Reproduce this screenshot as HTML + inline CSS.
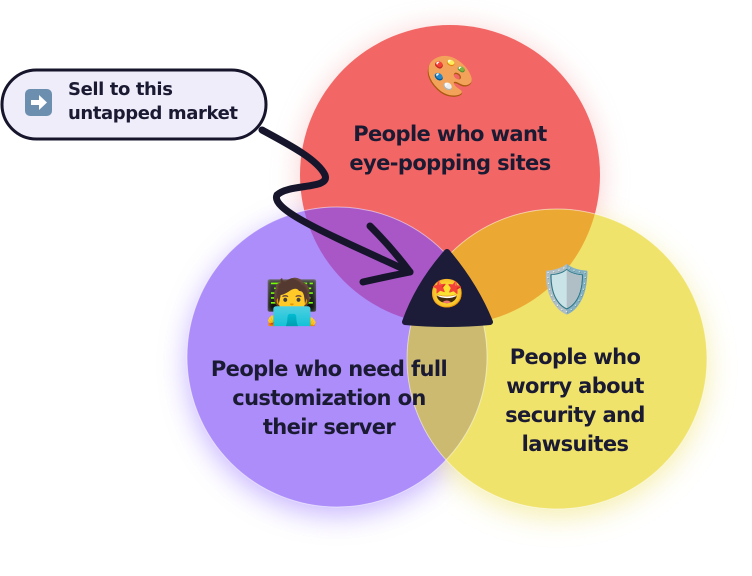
<!DOCTYPE html>
<html><head><style>
body{margin:0;width:752px;height:576px;background:#fff;overflow:hidden;position:relative;font-family:"DejaVu Sans","Liberation Sans",sans-serif}
.t{position:absolute;font-weight:bold;color:#1b1a33;font-size:21px;line-height:29px;text-align:center;letter-spacing:-0.6px;white-space:nowrap}
.e{position:absolute;font-family:"Noto Color Emoji","DejaVu Sans",sans-serif;text-align:center}
</style></head><body>
<svg width="752" height="576" style="position:absolute;left:0;top:0">
<defs>
<filter id="bl" x="-50%" y="-50%" width="200%" height="200%"><feGaussianBlur stdDeviation="14"/></filter>
<clipPath id="cr"><circle cx="450" cy="175" r="150"/></clipPath>
<clipPath id="cp"><circle cx="337" cy="357" r="150"/></clipPath>
</defs>
<circle cx="450" cy="178" r="150" fill="#f7b0b0" filter="url(#bl)" opacity=".6"/>
<circle cx="337" cy="365" r="150" fill="#b9a2ff" filter="url(#bl)" opacity=".8"/>
<circle cx="557" cy="367" r="150" fill="#f3ea9a" filter="url(#bl)" opacity=".8"/>
<circle cx="450" cy="175" r="150" fill="#f26666"/>
<circle cx="337" cy="357" r="150" fill="#ac8dfa"/>
<circle cx="557" cy="359" r="150" fill="#f0e36c"/>
<g clip-path="url(#cr)"><circle cx="337" cy="357" r="150" fill="#a957c6"/><circle cx="557" cy="359" r="150" fill="#eba934"/></g>
<g clip-path="url(#cp)"><circle cx="557" cy="359" r="150" fill="#cbba70"/></g>
<circle cx="337" cy="357" r="150" fill="none" stroke="#fff" stroke-opacity=".5" stroke-width="1"/>
<circle cx="557" cy="359" r="150" fill="none" stroke="#fff" stroke-opacity=".5" stroke-width="1"/>
<path d="M447 252 Q475 285 490 322 Q447 326 405 322 Q418 285 447 252Z" fill="#1c1b38" stroke="#1c1b38" stroke-width="6" stroke-linejoin="round"/>
<rect x="2" y="70" width="264" height="69" rx="34.5" fill="#efedf9" stroke="#16152c" stroke-width="3"/>
<path d="M262 130 C290 145 318 160 325 175 C330 190 290 183 277 195 C270 210 330 235 410 272" fill="none" stroke="#16152c" stroke-width="7" stroke-linecap="round"/>
<path d="M370 226 Q392 248 410 272 Q385 277 363 282" fill="none" stroke="#16152c" stroke-width="7" stroke-linecap="round" stroke-linejoin="round"/>
<rect x="25" y="89" width="27" height="27" rx="5" fill="#6c8fb0"/>
<path d="M31 100h8v-5l8 7.5-8 7.5v-5h-8z" fill="#fff"/>
</svg>
<div class="t" style="left:68px;top:78px;text-align:left;font-size:18px;line-height:24px;letter-spacing:-0.4px">Sell to this<br>untapped market</div>
<div class="t" style="left:300px;top:120px;width:300px">People who want<br>eye-popping sites</div>
<div class="t" style="left:179px;top:355px;width:300px">People who need full<br>customization on<br>their server</div>
<div class="t" style="left:475px;top:343px;width:200px">People who<br>worry about<br>security and<br>lawsuites</div>
<div class="e" style="left:420px;top:52px;width:60px;font-size:40px;line-height:50px">🎨</div>
<div class="e" style="left:262px;top:272px;width:60px;font-size:44px;line-height:60px">🧑‍💻</div>
<div class="e" style="left:537px;top:258px;width:60px;font-size:46px;line-height:64px">🛡️</div>
<div class="e" style="left:427px;top:277px;width:40px;font-size:28px;line-height:34px">🤩</div>
</body></html>
